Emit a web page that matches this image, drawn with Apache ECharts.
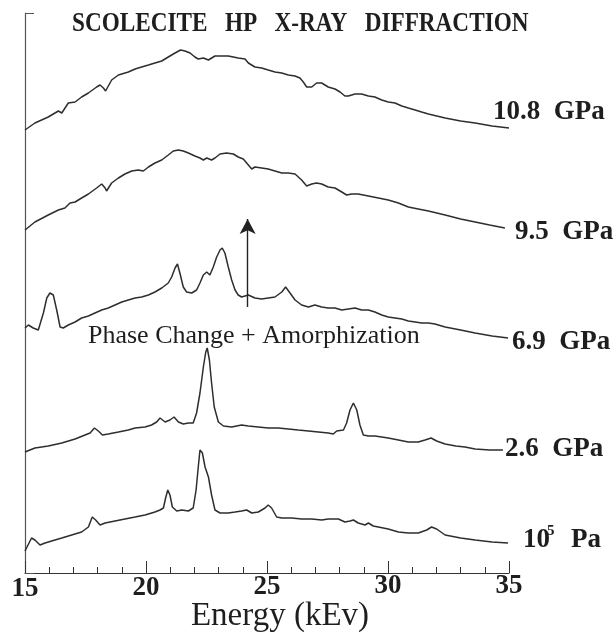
<!DOCTYPE html>
<html><head><meta charset="utf-8">
<script src="https://cdn.jsdelivr.net/npm/echarts@6/dist/echarts.min.js"></script>
<style>html,body{margin:0;padding:0;background:#fff}#c{width:613px;height:632px}</style>
</head><body><div id="c"></div>
<script>
// Energy axis ticks (keV)
const energyTicks = [15, 20, 25, 30, 35];
// Spectra: [energy keV, intensity (arbitrary units, stacked offsets)]
const spectrum_10_8GPa = [[15.0,443],[15.41,450],[15.96,456],[16.38,462],[16.52,460],[16.79,470],[17.07,471],[17.34,476],[17.62,480],[17.96,486],[18.10,488],[18.24,485],[18.33,482],[18.58,493],[18.86,498],[19.27,501],[19.55,504],[19.82,506],[20.10,508],[20.37,510],[20.65,512],[20.92,516],[21.20,520],[21.43,523],[21.61,522],[21.82,520],[22.02,516],[22.16,514],[22.37,515],[22.58,513],[22.85,517],[23.13,517],[23.40,517],[23.61,516],[23.81,515],[24.09,514],[24.23,510],[24.50,506],[24.78,505],[25.05,503],[25.33,501],[25.61,500],[25.88,498],[26.16,497],[26.36,495],[26.50,491],[26.64,486],[26.85,486],[27.05,490],[27.26,490],[27.53,486],[27.81,484],[28.02,481],[28.22,477],[28.36,477],[28.64,479],[28.91,479],[29.19,477],[29.46,476],[29.74,473],[30.01,471],[30.29,470],[30.57,467],[30.84,465],[31.12,463],[31.39,461],[31.67,459],[32.36,455],[33.00,452],[33.60,450],[34.30,447],[35.0,445]];
const spectrum_9_5GPa = [[15.0,343],[15.41,351],[15.96,358],[16.38,363],[16.65,365],[16.86,370],[17.07,371],[17.34,375],[17.62,379],[17.96,385],[18.17,389],[18.31,385],[18.37,382],[18.58,390],[18.86,395],[19.13,399],[19.41,402],[19.68,403],[19.89,402],[20.10,406],[20.37,410],[20.65,413],[20.92,418],[21.13,422],[21.34,423],[21.54,422],[21.75,420],[22.02,417],[22.23,415],[22.37,413],[22.51,415],[22.71,413],[22.85,415],[23.06,419],[23.33,420],[23.61,419],[23.81,416],[24.02,414],[24.23,408],[24.37,404],[24.50,406],[24.78,405],[25.05,404],[25.33,402],[25.61,400],[25.88,400],[26.16,399],[26.43,393],[26.64,387],[26.85,389],[27.05,390],[27.26,389],[27.53,386],[27.81,385],[28.09,381],[28.29,378],[28.50,379],[28.77,379],[29.19,377],[29.60,375],[30.01,373],[30.43,370],[30.84,366],[31.25,364],[31.67,362],[32.36,358],[33.00,354],[33.60,351],[34.20,348],[34.83,345]];
const spectrum_6_9GPa = [[15.0,245],[15.14,248],[15.34,245],[15.55,243],[15.76,260],[15.90,275],[16.03,280],[16.17,278],[16.31,263],[16.45,246],[16.58,245],[16.79,248],[17.07,251],[17.34,255],[17.62,257],[17.89,260],[18.17,263],[18.44,265],[18.72,268],[19.00,271],[19.27,273],[19.55,275],[19.82,276],[20.10,278],[20.37,281],[20.65,285],[20.92,290],[21.06,296],[21.20,305],[21.30,309],[21.40,300],[21.54,286],[21.68,281],[21.89,280],[22.09,283],[22.23,290],[22.37,298],[22.51,301],[22.64,298],[22.78,306],[22.92,316],[23.06,323],[23.15,325],[23.26,320],[23.40,306],[23.54,293],[23.68,283],[23.81,278],[23.95,276],[24.23,278],[24.50,275],[24.78,274],[25.05,275],[25.33,276],[25.61,281],[25.77,286],[25.95,280],[26.16,273],[26.43,268],[26.71,266],[26.98,268],[27.26,266],[27.53,265],[27.81,265],[28.09,263],[28.36,264],[28.64,265],[28.91,263],[29.19,263],[29.46,261],[29.74,258],[30.01,256],[30.29,255],[30.57,254],[30.84,252],[31.12,251],[31.39,250],[31.67,250],[31.94,249],[32.36,246],[33.00,243],[33.60,240],[34.30,237],[34.96,235]];
const spectrum_2_6GPa = [[15.0,121],[15.41,125],[15.96,127],[16.52,130],[17.07,134],[17.48,138],[17.69,140],[17.87,145],[18.03,142],[18.20,138],[18.44,139],[18.86,141],[19.27,143],[19.55,145],[19.96,146],[20.23,148],[20.44,151],[20.58,155],[20.79,151],[20.99,153],[21.16,156],[21.34,151],[21.54,149],[21.75,150],[21.95,150],[22.09,160],[22.23,180],[22.37,206],[22.47,221],[22.53,225],[22.62,213],[22.71,190],[22.82,166],[22.99,151],[23.20,147],[23.54,146],[23.95,148],[24.23,147],[24.64,146],[25.05,145],[25.47,145],[25.88,144],[26.29,143],[26.71,142],[27.12,141],[27.53,140],[27.74,139],[27.88,142],[28.16,143],[28.29,150],[28.43,163],[28.57,170],[28.71,163],[28.84,148],[28.98,138],[29.19,137],[29.46,137],[29.74,136],[30.01,135],[30.43,133],[30.84,131],[31.25,131],[31.53,133],[31.78,135],[32.01,132],[32.36,129],[32.80,127],[33.18,126],[33.60,124],[34.20,123],[34.75,123]];
const spectrum_1e5Pa = [[15.0,22],[15.27,35],[15.41,33],[15.62,28],[15.83,30],[16.10,32],[16.52,35],[16.93,38],[17.34,41],[17.62,46],[17.78,56],[17.92,53],[18.10,48],[18.31,50],[18.72,52],[19.13,54],[19.55,56],[19.96,58],[20.37,61],[20.58,63],[20.72,65],[20.81,75],[20.90,83],[20.99,78],[21.09,66],[21.27,62],[21.48,63],[21.75,62],[21.95,65],[22.07,83],[22.16,106],[22.23,123],[22.33,120],[22.44,106],[22.58,96],[22.71,78],[22.85,63],[23.06,60],[23.40,60],[23.68,61],[23.95,62],[24.16,63],[24.37,60],[24.64,61],[24.92,65],[25.05,68],[25.19,65],[25.40,56],[25.61,55],[26.02,55],[26.43,54],[26.85,54],[27.26,53],[27.53,54],[27.95,54],[28.22,51],[28.43,52],[28.57,53],[28.77,50],[29.05,48],[29.19,50],[29.39,47],[29.60,46],[30.01,44],[30.43,41],[30.84,40],[31.25,40],[31.60,43],[31.80,46],[32.01,44],[32.36,38],[33.00,35],[33.60,33],[34.30,31],[34.96,30]];
// Annotation arrow (energy, from/to intensity)
const arrowEnergy = 24.2;
const arrowFrom = 266;
const arrowTo = 354;

const SERIF = '"Liberation Serif","Times New Roman",serif';
const INK = '#1e1e1e';
const chart = echarts.init(document.getElementById('c'), null, {renderer: 'canvas'});
const lineStyle = {color: '#2e2e2e', width: 1.5};
function mk(name, data, extra) {
  return Object.assign({type: 'line', name: name, data: data, showSymbol: false, symbol: 'none',
    lineStyle: lineStyle, silent: true, animation: false, z: 3}, extra || {});
}
function txt(text, x, y, size, opts) {
  return Object.assign({type: 'text', x: x, y: y, silent: true, z: 10,
    style: Object.assign({text: text, fontFamily: SERIF, fontSize: size, fontWeight: 'bold', fill: INK,
      textAlign: 'left', textVerticalAlign: 'middle', verticalAlign: 'middle'}, (opts && opts.style) || {})},
    (opts && opts.el) || {});
}
// slight stagger of the scanned tick labels
const labelRich = {};
const labelShift = {15: 4, 20: 3, 25: 1, 30: -1, 35: -2};
energyTicks.forEach(function (t) {
  const s = labelShift[t];
  labelRich['t' + t] = {fontFamily: SERIF, fontWeight: 'bold', fontSize: 27, color: INK,
    padding: s >= 0 ? [s, 0, 0, 0] : [0, 0, -s, 0]};
});
const option = {
  animation: false,
  backgroundColor: '#fff',
  grid: {left: 25, right: 104, top: 13, bottom: 59},
  xAxis: {
    type: 'value', min: energyTicks[0], max: energyTicks[energyTicks.length - 1], interval: 5,
    axisLine: {show: true, onZero: false, lineStyle: {color: '#333', width: 1.2}},
    axisTick: {show: true, inside: true, length: 12, lineStyle: {color: '#333', width: 1}},
    minorTick: {show: true, splitNumber: 5, length: 6, lineStyle: {color: '#333', width: 1}},
    splitLine: {show: false}, minorSplitLine: {show: false},
    axisLabel: {fontFamily: SERIF, fontWeight: 'bold', fontSize: 27, color: INK, margin: 14, verticalAlign: 'middle',
      formatter: function (v) { return '{t' + v + '|' + v + '}'; }, rich: labelRich}
  },
  yAxis: {
    type: 'value', min: 0, max: 560, interval: 560,
    axisLine: {show: true, lineStyle: {color: '#555', width: 1.2}},
    axisTick: {show: true, inside: true, length: 9, lineStyle: {color: '#555'}},
    axisLabel: {show: false}, splitLine: {show: false}
  },
  series: [
    mk('10.8 GPa', spectrum_10_8GPa),
    mk('9.5 GPa', spectrum_9_5GPa),
    mk('6.9 GPa', spectrum_6_9GPa, {
      markLine: {silent: true, symbol: ['none', 'arrow'], symbolSize: [12, 15], animation: false,
        label: {show: false}, lineStyle: {color: '#222', width: 1.4, type: 'solid'},
        data: [[{coord: [arrowEnergy, arrowFrom]}, {coord: [arrowEnergy, arrowTo]}]]}
    }),
    mk('2.6 GPa', spectrum_2_6GPa),
    mk('10^5 Pa', spectrum_1e5Pa)
  ],
  graphic: [
    txt('SCOLECITE   HP   X-RAY   DIFFRACTION', 72, 24, 27, {el: {scaleX: 0.86}}),
    txt('10.8  GPa', 493, 112, 27),
    txt('9.5  GPa', 515, 232, 27),
    txt('6.9  GPa', 512, 342, 27),
    txt('2.6  GPa', 505, 449, 27),
    txt('10', 523, 540, 27),
    txt('5', 547, 531, 15),
    txt('Pa', 571, 540, 27),
    txt('Phase Change + Amorphization', 88, 336, 26, {style: {fontWeight: 'normal'}}),
    txt('Energy (kEv)', 280, 616, 33, {style: {fontWeight: 'normal', textAlign: 'center'}})
  ]
};
chart.setOption(option);
</script></body></html>
